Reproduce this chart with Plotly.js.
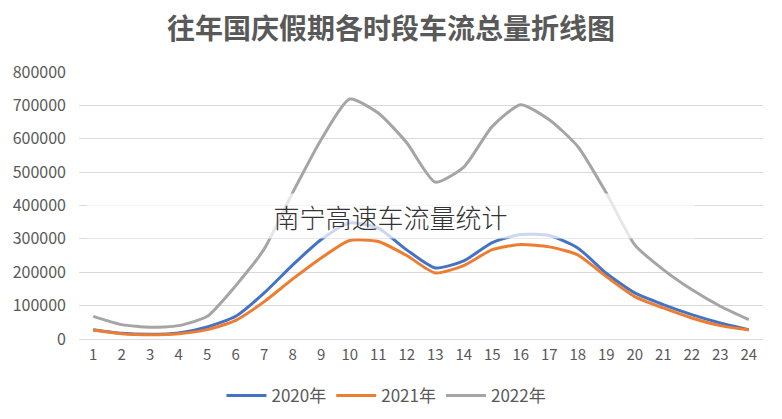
<!DOCTYPE html>
<html>
<head>
<meta charset="utf-8">
<script src="https://cdn.plot.ly/plotly-3.0.1.min.js"></script>
<style>html,body{margin:0;padding:0;background:#fff;}#chart{width:782px;height:419px;}</style>
</head>
<body>
<div id="chart"></div>
<script>
const hours = ['1','2','3','4','5','6','7','8','9','10','11','12','13','14','15','16','17','18','19','20','21','22','23','24'];
const y2020 = [28000,17000,14000,18000,36000,68000,138000,222000,298000,348000,332000,267000,213000,234000,289000,313000,310000,273000,197000,138000,103000,73000,48000,28000];
const y2021 = [27000,16000,13000,16000,28000,56000,112000,180000,243000,295000,292000,250000,198000,220000,268000,283000,276000,252000,187000,127000,93000,63000,40000,27000];
const y2022 = [68000,43000,35000,40000,68000,160000,270000,439000,598000,719000,677000,588000,470000,515000,637000,702000,657000,577000,438000,282000,208000,148000,98000,58000];
const seriesNames = ['2020年','2021年','2022年'];
const colors = ['#4472c4','#ed7d31','#a5a5a5'];
const font = '"Noto Sans CJK SC", "Noto Sans", sans-serif';

const data = [y2020, y2021, y2022].map((ys, i) => ({
  x: hours, y: ys, type: 'scatter', mode: 'lines', name: seriesNames[i],
  line: {color: colors[i], width: 3, shape: 'spline', smoothing: 0.6}
}));

const layout = {
  width: 782, height: 419,
  margin: {l: 79, r: 19, t: 72, b: 80},
  paper_bgcolor: '#fff', plot_bgcolor: '#fff',
  font: {family: font, color: '#595959', size: 13},
  title: {text: '<b>往年国庆假期各时段车流总量折线图</b>', x: 0.5, xanchor: 'center', y: 0.93, yanchor: 'middle',
          font: {family: font, size: 28, color: '#595959'}},
  xaxis: {type: 'category', range: [-0.5, 23.5], showgrid: false, zeroline: false, showline: false, ticks: '',
          automargin: false, ticklabelstandoff: 5, tickfont: {size: 15, color: '#595959'}, fixedrange: true},
  yaxis: {range: [0, 800000], dtick: 100000, showgrid: true, gridcolor: '#d9d9d9', gridwidth: 1,
          automargin: false, zeroline: true, zerolinecolor: '#d9d9d9', zerolinewidth: 1, showline: false, ticks: '',
          tickformat: 'd', ticklabelstandoff: 12, tickfont: {size: 16, color: '#595959'}},
  showlegend: true,
  legend: {orientation: 'h', xref: 'container', yref: 'container', x: 0.4942, xanchor: 'center',
           y: 1 - 396 / 419, yanchor: 'middle',
           font: {size: 17, color: '#595959'}, itemwidth: 40, tracegroupgap: 0},
  annotations: [{
    text: '南宁高速车流量统计', xref: 'paper', yref: 'paper',
    x: (390 - 79) / 684, y: (339 - 216) / 267, xanchor: 'center', yanchor: 'middle',
    showarrow: false, width: 605, height: 42, bgcolor: 'rgba(255,255,255,0.72)',
    font: {family: font, size: 26, color: '#333333', weight: 300}
  }]
};
Plotly.newPlot('chart', data, layout, {displayModeBar: false, staticPlot: true});
</script>
</body>
</html>
